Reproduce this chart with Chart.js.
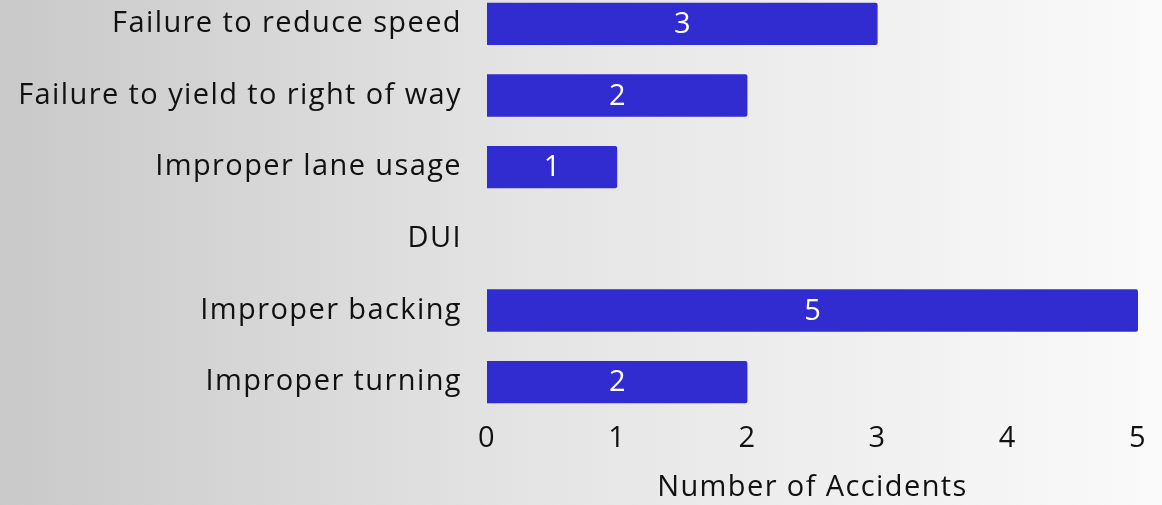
<!DOCTYPE html>
<html>
<head>
<meta charset="utf-8">
<script src="https://cdn.jsdelivr.net/npm/chart.js@4/dist/chart.umd.min.js"></script>
<style>
  html, body { margin:0; padding:0; width:1162px; height:505px; overflow:hidden;
    background: linear-gradient(to right, #c9c9c9 0%, #e4e4e4 45%, #fafafa 100%); }
  #wrap { position:absolute; left:0; top:-12px; width:1162px; height:517px; }
</style>
</head>
<body>
<div id="wrap"><canvas id="c"></canvas></div>
<script>
const categories = ["Failure to reduce speed", "Failure to yield to right of way", "Improper lane usage", "DUI", "Improper backing", "Improper turning"];
const accidents = [3, 2, 1, 0, 5, 2];
const xTicks = [0, 1, 2, 3, 4, 5];
const axisTitle = "Number of Accidents";

const FONT = "'Open Sans', Lato, sans-serif";

const spacing = {
  id: 'spacing',
  beforeDraw(chart) { chart.ctx.letterSpacing = '1.4px'; }
};

const valueLabels = {
  id: 'valueLabels',
  afterDatasetsDraw(chart) {
    const ctx = chart.ctx;
    const meta = chart.getDatasetMeta(0);
    ctx.save();
    ctx.letterSpacing = '0px';
    ctx.fillStyle = '#ffffff';
    ctx.font = '29px ' + FONT;
    ctx.textAlign = 'center';
    ctx.textBaseline = 'middle';
    meta.data.forEach((bar, i) => {
      const v = accidents[i];
      if (!v) return;
      const cx = (bar.base + bar.x) / 2;
      ctx.fillText(String(v), cx, bar.y + 1);
    });
    ctx.restore();
  }
};

new Chart(document.getElementById('c'), {
  type: 'bar',
  data: {
    labels: categories,
    datasets: [{
      data: accidents,
      backgroundColor: '#302cd0',
      borderRadius: 2,
      borderSkipped: 'start',
      categoryPercentage: 1,
      barPercentage: 0.59
    }]
  },
  options: {
    indexAxis: 'y',
    responsive: true,
    maintainAspectRatio: false,
    animation: false,
    layout: { padding: { right: 24, top: 0, bottom: 0, left: 0 } },
    plugins: { legend: { display: false }, tooltip: { enabled: false } },
    scales: {
      y: {
        grid: { display: false, drawTicks: false },
        border: { display: false },
        ticks: { color: '#111', font: { family: FONT, size: 29 }, padding: 25 },
        afterFit(s) { s.width = 487; s.paddingTop = 0; s.paddingBottom = 0; }
      },
      x: {
        min: 0, max: 5,
        afterBuildTicks(s) { s.ticks = xTicks.map(v => ({ value: v })); },
        grid: { display: false, drawTicks: false },
        border: { display: false },
        ticks: { color: '#111', font: { family: FONT, size: 29 }, padding: 3, maxRotation: 0 },
        title: { display: true, text: axisTitle, color: '#111', font: { family: FONT, size: 29 }, padding: { top: 6, bottom: 0 } },
        afterFit(s) { s.height = 87; }
      }
    }
  },
  plugins: [spacing, valueLabels]
});
</script>
</body>
</html>
